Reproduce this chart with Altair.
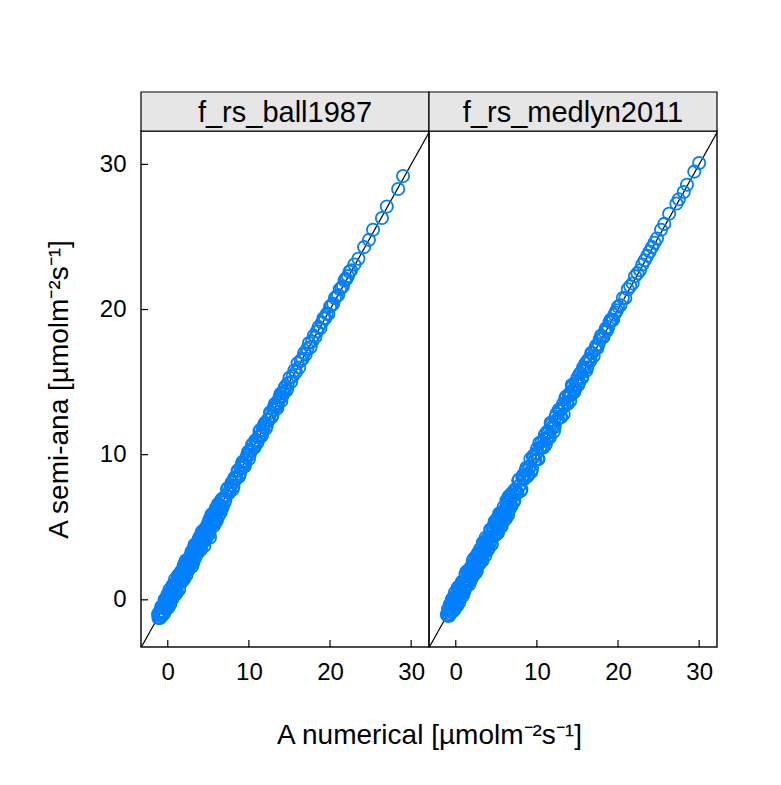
import altair as alt
import pandas as pd

# ---- data (A numerical, A semi-ana) ----
ball_num = [
    -1.2, -1.1, -1.0, -0.9, -0.8, -0.7, -0.6, -0.5, -0.4, -0.3,
    -0.2, -0.1, 0.0, 0.1, 0.2, 0.3, 0.4, 0.5, 0.6, 0.7,
    0.8, 0.9, 1.0, 1.1, 1.2, 1.3, 1.4, 1.5, 1.6, 1.7,
    1.8, 1.9, 2.0, 2.1, 2.2, 2.3, 2.4, 2.5, 2.6, 2.7,
    2.8, 2.9, 3.0, 3.1, 3.2, 3.3, 3.4, 3.5, 3.6, 3.7,
    3.8, 3.9, 4.0, 4.1, 4.2, 4.3, 4.4, 4.5, 4.6, 4.7,
    4.8, 4.9, 5.0, 5.1, 5.2, 5.3, 5.4, 5.5, 5.6, 5.7,
    5.8, 5.9, 6.0, 6.1, 6.2, 6.3, 6.4, 6.5, 6.6, 6.7,
    6.8, 7.0, 7.2, 7.4, 7.6, 7.8, 8.0, 8.2, 8.4, 8.6,
    8.8, 9.0, 9.2, 9.4, 9.6, 9.8, 10.0, 10.2, 10.4, 10.6,
    10.8, 11.0, 11.2, 11.4, 11.6, 11.8, 12.0, 12.2, 12.4, 12.6,
    12.8, 13.0, 13.2, 13.4, 13.6, 13.8, 14.0, 14.2, 14.4, 14.6,
    14.8, 15.0, 15.2, 15.4, 15.6, 15.8, 16.0, 16.2, 16.4, 16.6,
    16.8, 17.0, 17.2, 17.4, 17.6, 17.8, 18.0, 18.2, 18.4, 18.6,
    18.8, 19.0, 19.2, 19.4, 19.6, 19.8, 20.0, 20.2, 20.4, 20.6,
    20.8, 21.0, 21.2, 21.4, 21.6, 21.8, 22.0, 22.2, 22.4, 22.6,
    23.5, 24.2, 24.8, 25.3, 26.4, 27.0, 28.4, 29.0, 23.0, 21.9,
]
ball_semi = [
    -1.0, -1.2, -1.0, -1.1, -0.5, -1.1, -0.5, -0.8, 0.0, -0.4,
    0.1, -0.6, 0.0, -0.1, 0.7, -0.3, 0.5, 0.2, 1.0, 0.6,
    0.4, 1.4, 0.4, 1.3, 1.1, 1.7, 0.7, 1.5, 1.9, 1.4,
    1.9, 1.4, 2.4, 1.9, 2.7, 1.7, 2.4, 2.8, 2.2, 2.9,
    2.7, 3.3, 2.3, 3.4, 2.9, 3.8, 2.9, 3.5, 3.8, 3.3,
    4.2, 3.7, 4.1, 3.5, 4.7, 4.0, 4.6, 3.7, 4.9, 4.6,
    4.3, 5.2, 4.8, 5.5, 4.3, 5.4, 5.9, 5.2, 5.6, 5.1,
    6.1, 5.5, 6.2, 6.0, 6.6, 5.8, 6.5, 6.3, 6.9, 6.4,
    7.0, 6.7, 7.2, 7.7, 7.4, 7.9, 7.6, 8.4, 8.3, 8.9,
    8.5, 9.1, 9.5, 9.2, 9.6, 10.0, 9.7, 10.3, 10.7, 10.5,
    11.0, 10.8, 11.2, 11.7, 11.3, 11.9, 12.2, 12.0, 12.4, 12.9,
    12.6, 13.1, 13.5, 13.3, 13.6, 14.0, 13.7, 14.3, 14.6, 14.4,
    14.9, 15.3, 15.0, 15.4, 15.8, 15.7, 16.3, 16.0, 16.5, 16.6,
    17.0, 16.9, 17.3, 17.7, 17.4, 17.8, 18.2, 18.1, 18.5, 18.8,
    18.7, 19.1, 19.4, 19.4, 19.7, 19.7, 20.2, 20.3, 20.4, 20.8,
    20.9, 21.0, 21.4, 21.5, 21.6, 22.0, 22.1, 22.3, 22.6, 22.7,
    23.5, 24.3, 24.8, 25.5, 26.3, 27.1, 28.3, 29.2, 23.1, 22.1,
]
ball_num_dense = [
    -1.15, -1.05, -0.95, -0.85, -0.75, -0.65, -0.55, -0.45, -0.35, -0.25,
    -0.15, -0.05, 0.05, 0.15, 0.25, 0.35, 0.45, 0.55, 0.65, 0.75,
    0.85, 0.95, 1.05, 1.15, 1.25, 1.35, 1.45, 1.55, 1.65, 1.75,
    1.85, 1.95, 2.05, 2.15, 2.25, 2.35, 2.45, 2.55, 2.65, 2.75,
    2.85, 2.95, 3.05, 3.15, 3.25, 3.35, 3.45, 3.55, 3.65, 3.75,
    3.85, 3.95, 4.05, 4.15, 4.25, 4.35, 4.45, 4.55, 4.65, 4.75,
    4.85, 4.95, 5.05, 5.15, 5.25, 5.35, 5.45, 5.55, 5.65, 5.75,
    5.85, 5.95, 6.05, 6.15, 6.25, 6.35, 6.45, 6.55, 6.65, 6.75,
    6.9, 7.1, 7.3, 7.5, 7.7, 7.9, 8.1, 8.3, 8.5, 8.7,
    8.9, 9.1, 9.3, 9.5, 9.7, 9.9, 10.1, 10.3, 10.5, 10.7,
    10.9, 11.1, 11.3, 11.5, 11.7, 11.9, 12.1, 12.3, 12.5, 12.7,
    12.9, 13.1, 13.3, 13.5, 13.7, 13.9, 14.1, 14.3, 14.5, 14.7,
]
ball_semi_dense = [
    -1.25, -0.85, -1.25, -0.75, -0.45, -0.85, -0.55, -0.95, -0.15, -0.65,
    -0.45, 0.35, -0.55, 0.25, 0.55, 0.15, 0.45, 0.05, 0.85, 0.35,
    1.05, 0.55, 1.05, 0.55, 1.65, 1.15, 1.55, 1.25, 1.95, 1.25,
    1.55, 2.35, 1.45, 2.25, 2.55, 2.15, 2.45, 2.05, 2.85, 2.35,
    3.05, 2.55, 3.05, 2.55, 3.65, 3.15, 3.55, 3.25, 3.95, 3.25,
    3.55, 4.35, 3.45, 4.25, 4.55, 4.15, 4.45, 4.05, 4.85, 4.35,
    5.05, 4.55, 5.05, 4.55, 5.65, 5.15, 5.55, 5.25, 5.95, 5.25,
    5.55, 6.35, 5.45, 6.25, 6.55, 6.15, 6.45, 6.05, 6.85, 6.35,
    7.0, 6.9, 7.6, 7.4, 7.7, 8.1, 7.8, 8.4, 8.4, 8.9,
    8.7, 9.3, 9.3, 9.2, 9.8, 10.2, 10.0, 10.3, 10.7, 10.5,
    11.0, 10.9, 11.6, 11.4, 11.7, 12.1, 11.8, 12.4, 12.4, 12.9,
    12.7, 13.3, 13.3, 13.2, 13.8, 14.2, 14.0, 14.3, 14.7, 14.5,
]
medlyn_num = [
    -1.1, -1.0, -0.9, -0.8, -0.7, -0.6, -0.5, -0.4, -0.3, -0.2,
    -0.1, 0.0, 0.1, 0.2, 0.3, 0.4, 0.5, 0.6, 0.7, 0.8,
    0.9, 1.0, 1.1, 1.2, 1.3, 1.4, 1.5, 1.6, 1.7, 1.8,
    1.9, 2.0, 2.1, 2.2, 2.3, 2.4, 2.5, 2.6, 2.7, 2.8,
    2.9, 3.0, 3.1, 3.2, 3.3, 3.4, 3.5, 3.6, 3.7, 3.8,
    3.9, 4.0, 4.1, 4.2, 4.3, 4.4, 4.5, 4.6, 4.7, 4.8,
    4.9, 5.0, 5.1, 5.2, 5.3, 5.4, 5.5, 5.6, 5.7, 5.8,
    5.9, 6.0, 6.1, 6.2, 6.3, 6.4, 6.5, 6.6, 6.7, 6.8,
    7.0, 7.2, 7.4, 7.6, 7.8, 8.0, 8.2, 8.4, 8.6, 8.8,
    9.0, 9.2, 9.4, 9.6, 9.8, 10.0, 10.2, 10.4, 10.6, 10.8,
    11.0, 11.2, 11.4, 11.6, 11.8, 12.0, 12.2, 12.4, 12.6, 12.8,
    13.0, 13.2, 13.4, 13.6, 13.8, 14.0, 14.2, 14.4, 14.6, 14.8,
    15.0, 15.2, 15.4, 15.6, 15.8, 16.0, 16.2, 16.4, 16.6, 16.8,
    17.0, 17.3, 17.6, 17.9, 18.2, 18.5, 18.8, 19.1, 19.4, 19.7,
    20.0, 20.3, 20.6, 20.9, 21.2, 21.5, 21.8, 22.1, 22.4, 22.7,
    23.0, 23.3, 23.6, 23.9, 24.2, 24.5, 24.8, 25.3, 25.7, 26.3,
    27.2, 27.5, 28.1, 28.5, 29.4, 30.0,
]
medlyn_semi = [
    -1.0, -1.1, -0.7, -1.1, -0.3, -0.8, 0.0, -0.8, 0.0, -0.7,
    0.5, -0.2, 0.4, -0.4, 0.4, 0.9, 0.1, 0.8, 0.6, 1.2,
    0.3, 1.3, 0.9, 1.8, 0.9, 1.4, 2.0, 1.3, 1.9, 1.3,
    2.3, 1.9, 2.7, 1.7, 2.5, 2.1, 3.0, 2.0, 2.8, 3.1,
    2.5, 3.5, 2.9, 3.3, 2.7, 3.8, 3.5, 3.3, 4.3, 3.7,
    4.2, 3.5, 4.3, 4.0, 4.8, 3.8, 4.6, 5.0, 4.4, 5.4,
    4.5, 5.0, 5.6, 4.6, 5.5, 5.2, 5.9, 5.1, 6.0, 5.7,
    6.4, 5.7, 6.2, 5.6, 6.7, 6.3, 7.1, 6.2, 6.9, 6.6,
    7.4, 6.8, 7.5, 7.4, 8.3, 7.5, 8.4, 8.3, 8.9, 8.5,
    9.0, 9.7, 9.0, 9.8, 9.6, 10.4, 9.7, 10.5, 10.9, 10.5,
    11.4, 11.0, 11.5, 11.2, 12.1, 12.0, 11.9, 12.8, 12.5, 13.0,
    12.6, 13.5, 13.4, 14.0, 13.5, 14.2, 14.1, 14.7, 14.3, 14.9,
    15.3, 15.0, 15.6, 15.3, 15.9, 16.3, 16.0, 16.6, 16.5, 17.0,
    16.8, 17.5, 17.6, 18.2, 18.1, 18.7, 18.8, 19.3, 19.3, 19.8,
    20.2, 20.3, 20.8, 20.8, 21.4, 21.6, 21.8, 22.3, 22.5, 22.7,
    23.1, 23.4, 23.7, 24.0, 24.3, 24.6, 24.9, 25.5, 25.9, 26.6,
    27.3, 27.6, 28.1, 28.6, 29.5, 30.1,
]
medlyn_num_dense = [
    -1.05, -0.95, -0.85, -0.75, -0.65, -0.55, -0.45, -0.35, -0.25, -0.15,
    -0.05, 0.05, 0.15, 0.25, 0.35, 0.45, 0.55, 0.65, 0.75, 0.85,
    0.95, 1.05, 1.15, 1.25, 1.35, 1.45, 1.55, 1.65, 1.75, 1.85,
    1.95, 2.05, 2.15, 2.25, 2.35, 2.45, 2.55, 2.65, 2.75, 2.85,
    2.95, 3.05, 3.15, 3.25, 3.35, 3.45, 3.55, 3.65, 3.75, 3.85,
    3.95, 4.05, 4.15, 4.25, 4.35, 4.45, 4.55, 4.65, 4.75, 4.85,
    4.95, 5.05, 5.15, 5.25, 5.35, 5.45, 5.55, 5.65, 5.75, 5.85,
    5.95, 6.05, 6.15, 6.25, 6.35, 6.45, 6.55, 6.65, 6.75, 6.85,
    6.9, 7.1, 7.3, 7.5, 7.7, 7.9, 8.1, 8.3, 8.5, 8.7,
    8.9, 9.1, 9.3, 9.5, 9.7, 9.9, 10.1, 10.3, 10.5, 10.7,
    10.9, 11.1, 11.3, 11.5, 11.7, 11.9, 12.1, 12.3, 12.5, 12.7,
    12.9, 13.1, 13.3, 13.5, 13.7, 13.9, 14.1, 14.3, 14.5, 14.7,
    14.9, 15.1, 15.3, 15.5, 15.7, 15.9, 16.1, 16.3, 16.5, 16.7,
    17.15, 17.45, 17.75, 18.05, 18.35, 18.65, 18.95, 19.25, 19.55, 19.85,
]
medlyn_semi_dense = [
    -1.05, -0.65, -1.05, -0.35, -0.95, -0.35, -0.55, 0.15, -0.65, -0.05,
    -0.55, 0.25, -0.15, 0.85, 0.35, -0.15, 0.85, 0.45, 1.25, 0.45,
    1.25, 0.55, 1.25, 0.95, 1.95, 1.35, 1.95, 1.05, 1.95, 1.85,
    1.45, 2.25, 1.85, 2.85, 2.35, 1.85, 2.85, 2.45, 3.25, 2.45,
    3.25, 2.55, 3.25, 2.95, 3.95, 3.35, 3.95, 3.05, 3.95, 3.85,
    3.45, 4.25, 3.85, 4.85, 4.35, 3.85, 4.85, 4.45, 5.25, 4.45,
    5.25, 4.55, 5.25, 4.95, 5.95, 5.35, 5.95, 5.05, 5.95, 5.85,
    5.45, 6.25, 5.85, 6.85, 6.35, 5.85, 6.85, 6.45, 7.25, 6.45,
    7.1, 6.7, 7.6, 7.3, 8.2, 7.9, 7.6, 8.6, 8.4, 9.1,
    8.6, 9.2, 8.8, 9.9, 9.6, 10.1, 9.7, 10.8, 10.5, 10.5,
    11.1, 10.7, 11.6, 11.3, 12.2, 11.9, 11.6, 12.6, 12.4, 13.1,
    12.6, 13.2, 12.8, 13.9, 13.6, 14.1, 13.7, 14.8, 14.5, 14.5,
    15.1, 14.8, 15.6, 15.3, 16.0, 15.9, 15.8, 16.5, 16.4, 17.0,
    17.25, 17.35, 17.95, 18.05, 18.45, 18.55, 19.15, 19.25, 19.65, 19.95,
]
panel_names = ["f_rs_ball1987", "f_rs_medlyn2011"]
tick_values = [0, 10, 20, 30]
line_ends = [-3.3, 32.3]
x_domain = [-3.3, 32.2]
y_domain = [-3.25, 32.3]

W, H, STRIP = 288, 516, 39
FONT = "Liberation Sans"
BLUE = "#0080ff"

x_title = "A numerical [µmolm⁻²s⁻¹]"
y_title = "A semi-ana [µmolm⁻²s⁻¹]"

line_df = pd.DataFrame({"a": line_ends, "b": line_ends})
tick_df = pd.DataFrame({"t": tick_values})


def panel(name, num, semi, first):
    xs = alt.Scale(domain=x_domain, nice=False, zero=False)
    ys = alt.Scale(domain=y_domain, nice=False, zero=False)
    if first:
        xaxis = alt.Axis(
            values=tick_values, tickSize=0, domain=False, grid=False,
            labelFontSize=24, labelPadding=13, labelColor="black",
            title=x_title, titleFontSize=28, titleFontWeight="normal",
            titleColor="black", titlePadding=37, titleX=W, titleAlign="center",
        )
        yaxis = alt.Axis(
            values=tick_values, tickSize=0, domain=False, grid=False,
            labelFontSize=24, labelPadding=15, labelColor="black",
            title=y_title, titleFontSize=28, titleFontWeight="normal",
            titleColor="black", titlePadding=26,
        )
    else:
        xaxis = alt.Axis(
            values=tick_values, tickSize=0, domain=False, grid=False,
            labelFontSize=24, labelPadding=13, labelColor="black", title=None,
        )
        yaxis = None

    line = alt.Chart(line_df).mark_line(color="black", strokeWidth=1.2, clip=True).encode(
        x=alt.X("a:Q", scale=xs, axis=xaxis), y=alt.Y("b:Q", scale=ys, axis=yaxis)
    )
    pts = alt.Chart(pd.DataFrame({"num": num, "semi": semi})).mark_point(
        shape="circle", filled=False, size=150, strokeWidth=1.8,
        color=BLUE, opacity=1,
    ).encode(
        x=alt.X("num:Q", scale=xs, axis=xaxis),
        y=alt.Y("semi:Q", scale=ys, axis=yaxis),
    )
    xt = alt.Chart(tick_df).mark_rule(color="black", strokeWidth=1.2).encode(
        x=alt.X("t:Q", scale=xs), y=alt.value(H), y2=alt.value(H - 7)
    )
    layers = [line, pts, xt]
    if first:
        yt = alt.Chart(tick_df).mark_rule(color="black", strokeWidth=1.2).encode(
            y=alt.Y("t:Q", scale=ys), x=alt.value(0), x2=alt.value(7)
        )
        layers.append(yt)
    sdf = pd.DataFrame({"name": [name]})
    strip = alt.Chart(sdf).mark_rect(fill="#e6e6e6", stroke="black", strokeWidth=1.2).encode(
        x=alt.value(0), x2=alt.value(W), y=alt.value(-STRIP), y2=alt.value(0)
    )
    stext = alt.Chart(sdf).mark_text(font=FONT, fontSize=29, color="black", baseline="middle").encode(
        x=alt.value(W / 2), y=alt.value(-STRIP / 2 + 1), text="name:N"
    )
    layers += [strip, stext]
    return alt.layer(*layers).properties(width=W, height=H)


chart = alt.hconcat(
    panel(panel_names[0], ball_num + ball_num_dense, ball_semi + ball_semi_dense, True),
    panel(panel_names[1], medlyn_num + medlyn_num_dense, medlyn_semi + medlyn_semi_dense, False),
    spacing=0,
    bounds="flush",
).properties(
    padding={"left": 44, "top": 90, "right": 5, "bottom": 5},
    background="white",
).configure(
    font=FONT
).configure_view(
    stroke="#111", strokeWidth=1.5
)

chart.save("out.html", embed_options={"renderer": "svg", "actions": False})
